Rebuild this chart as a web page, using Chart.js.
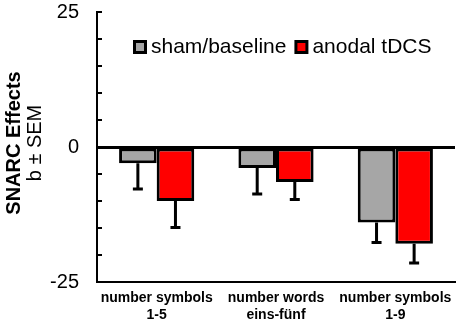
<!DOCTYPE html>
<html>
<head>
<meta charset="utf-8">
<script src="https://cdn.jsdelivr.net/npm/chart.js@4.4.0/dist/chart.umd.min.js"></script>
<style>
  html, body { margin: 0; padding: 0; background: #fff; }
</style>
</head>
<body>
<canvas id="chartSnarc" width="459" height="321"></canvas>
<script>
const categories = [["number symbols", "1-5"], ["number words", "eins-fünf"], ["number symbols", "1-9"]];
const seriesNames = ["sham/baseline", "anodal tDCS"];
const shamValues = [-3.0, -3.9, -14.0];
const shamSem = [4.8, 4.8, 3.7];
const tdcsValues = [-10.0, -6.5, -17.9];
const tdcsSem = [4.9, 3.2, 3.6];
const labeledTicks = [-25, 0, 25];

const FONT = "'Liberation Sans', Arial, sans-serif";

// one-sided (downward) error bars from the end of each bar
const errorBars = {
  id: "errorBars",
  afterDatasetsDraw(chart) {
    const ctx = chart.ctx;
    const y = chart.scales.y;
    ctx.save();
    ctx.strokeStyle = "#000";
    ctx.lineWidth = 3;
    chart.data.datasets.forEach((ds, i) => {
      const meta = chart.getDatasetMeta(i);
      meta.data.forEach((bar, j) => {
        const v = ds.data[j];
        const yEnd = y.getPixelForValue(v - ds.sem[j]);
        ctx.beginPath();
        ctx.moveTo(bar.x, bar.y);
        ctx.lineTo(bar.x, yEnd);
        ctx.moveTo(bar.x - 5, yEnd);
        ctx.lineTo(bar.x + 5, yEnd);
        ctx.stroke();
      });
    });
    ctx.restore();
  },
};

// inward tick marks, legend inside the plot, two-line y title
const decorations = {
  id: "decorations",
  afterDraw(chart) {
    const ctx = chart.ctx;
    const y = chart.scales.y;
    const area = chart.chartArea;
    ctx.save();
    ctx.strokeStyle = "#000";
    ctx.lineWidth = 2;
    y.ticks.forEach((t) => {
      const py = y.getPixelForValue(t.value);
      ctx.beginPath();
      ctx.moveTo(area.left, py);
      ctx.lineTo(area.left + 5, py);
      ctx.stroke();
    });

    // legend
    ctx.font = "21px " + FONT;
    ctx.textBaseline = "middle";
    ctx.textAlign = "left";
    let lx = area.left + 36;
    const ly = 47;
    chart.data.datasets.forEach((ds) => {
      ctx.fillStyle = "#000";
      ctx.fillRect(lx, ly - 7, 14, 14);
      ctx.fillStyle = ds.backgroundColor;
      ctx.fillRect(lx + 3, ly - 4, 8, 8);
      ctx.fillStyle = "#000";
      ctx.fillText(ds.label, lx + 18, ly);
      lx += 18 + ctx.measureText(ds.label).width + 8;
    });

    // y title
    const cy = (area.top + area.bottom) / 2 - 4;
    ctx.translate(0, cy);
    ctx.rotate(-Math.PI / 2);
    ctx.textAlign = "center";
    ctx.font = "bold 20px " + FONT;
    ctx.fillText("SNARC Effects", 0, 14);
    ctx.font = "20px " + FONT;
    ctx.fillText("b ± SEM", 0, 35);
    ctx.restore();
  },
};

new Chart(document.querySelector("#chartSnarc"), {
  type: "bar",
  data: {
    labels: categories,
    datasets: [
      {
        label: seriesNames[0],
        data: shamValues,
        sem: shamSem,
        backgroundColor: "#a6a6a6",
        borderColor: "#000",
        borderWidth: 3,
        borderSkipped: false,
        categoryPercentage: 0.63,
        barPercentage: 1,
      },
      {
        label: seriesNames[1],
        data: tdcsValues,
        sem: tdcsSem,
        backgroundColor: "#ff0000",
        borderColor: "#000",
        borderWidth: 3,
        borderSkipped: false,
        categoryPercentage: 0.63,
        barPercentage: 1,
      },
    ],
  },
  options: {
    responsive: false,
    animation: false,
    layout: { padding: { top: 0, right: 4, left: 0, bottom: 0 } },
    scales: {
      x: {
        grid: { display: false },
        border: { color: "#000", width: 2 },
        ticks: {
          color: "#000",
          font: { family: FONT, size: 14, weight: "bold", lineHeight: 1.2 },
          padding: 0,
          maxRotation: 0,
          autoSkip: false,
        },
        afterFit(scale) {
          scale.height = 39;
        },
      },
      y: {
        min: -25,
        max: 25,
        border: { color: "#000", width: 2 },
        grid: {
          drawTicks: false,
          color: (c) => (c.tick && c.tick.value === 0 ? "#000" : "rgba(0,0,0,0)"),
          lineWidth: (c) => (c.tick && c.tick.value === 0 ? 3 : 0),
        },
        ticks: {
          stepSize: 5,
          autoSkip: false,
          color: "#000",
          padding: 18,
          font: { family: FONT, size: 20, lineHeight: 1 },
          callback: (v) => (labeledTicks.includes(v) ? v : ""),
        },
        afterFit(scale) {
          scale.width = 97;
          scale.paddingTop = 12;
          scale.paddingBottom = 0;
        },
      },
    },
    plugins: {
      legend: { display: false },
      tooltip: { enabled: false },
    },
  },
  plugins: [errorBars, decorations],
});
</script>
</body>
</html>
